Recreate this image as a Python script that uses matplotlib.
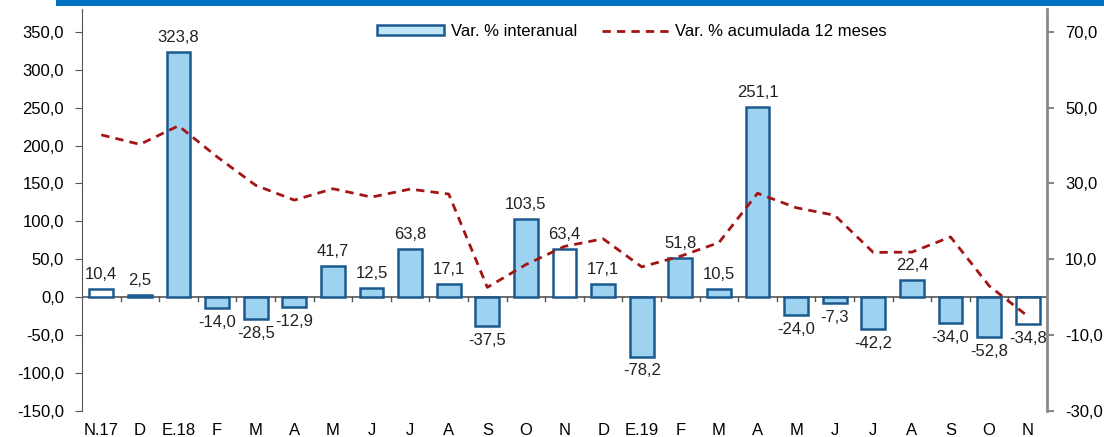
import matplotlib.pyplot as plt
import matplotlib.ticker as mticker
from matplotlib.patches import Rectangle
import numpy as np

plt.rcParams['font.family'] = ['Liberation Sans', 'DejaVu Sans']

# Data
months = ["N.17", "D", "E.18", "F", "M", "A", "M", "J", "J", "A", "S", "O", "N",
          "D", "E.19", "F", "M", "A", "M", "J", "J", "A", "S", "O", "N"]
var_interanual = [10.4, 2.5, 323.8, -14.0, -28.5, -12.9, 41.7, 12.5, 63.8, 17.1, -37.5,
                  103.5, 63.4, 17.1, -78.2, 51.8, 10.5, 251.1, -24.0, -7.3, -42.2,
                  22.4, -34.0, -52.8, -34.8]
var_acumulada = [42.8, 40.3, 45.2, 37.0, 29.5, 25.6, 28.6, 26.4, 28.5, 27.2, 2.6,
                 8.6, 13.4, 15.4, 8.0, 10.8, 14.4, 27.4, 23.6, 21.6, 11.8, 11.9,
                 15.9, 3.0, -5.0]
white_bars = [0, 12, 24]  # November bars drawn without fill

bar_blue = "#9DD3F0"
edge_blue = "#1B5A8E"
line_red = "#A31515"
FS = 12


def fmt_es(v, pos=None):
    return f"{v:.1f}".replace(".", ",")


fig = plt.figure(figsize=(11.04, 4.37), dpi=100)
ax = fig.add_axes([0.0743, 0.0595, 0.8741, 0.92])
ax2 = ax.twinx()

x = np.arange(len(months))
colors = ["white" if i in white_bars else bar_blue for i in x]
bars = ax.bar(x, var_interanual, width=0.62, color=colors, edgecolor=edge_blue,
              linewidth=1.8, zorder=2)

# bar labels
for xi, v in zip(x, var_interanual):
    if v >= 0:
        ax.annotate(fmt_es(v), (xi, v), xytext=(0, 5), textcoords="offset points",
                    ha="center", va="bottom", fontsize=FS, color="#222222")
    else:
        ax.annotate(fmt_es(v), (xi, v), xytext=(0, -5), textcoords="offset points",
                    ha="center", va="top", fontsize=FS, color="#222222")

ax2.plot(x, var_acumulada, color=line_red, linestyle=(0, (3, 2.2)), linewidth=2,
         zorder=3)

ax.set_xlim(-0.5, len(months) - 0.5)
ax.set_ylim(-150, 380)
ax2.set_ylim(-30, 76)
ax.set_yticks(np.arange(-150, 351, 50))
ax2.set_yticks(np.arange(-30, 71, 20))
ax.yaxis.set_major_formatter(mticker.FuncFormatter(fmt_es))
ax2.yaxis.set_major_formatter(mticker.FuncFormatter(fmt_es))

# x axis: zero line with ticks between categories
ax.axhline(0, color="#555555", linewidth=1.2, zorder=1)
for b in np.arange(0.5, len(months) - 0.5, 1):
    ax.plot([b, b], [0, -5], color="#555555", linewidth=1, zorder=1)
ax.set_xticks(x)
ax.set_xticklabels(months, fontsize=FS)
ax.tick_params(axis="x", length=0, pad=9)

for a in (ax, ax2):
    a.spines["top"].set_visible(False)
    a.spines["bottom"].set_visible(False)
ax.spines["right"].set_visible(False)
ax2.spines["left"].set_visible(False)
ax.spines["left"].set_color("#555555")
ax2.spines["right"].set_color("#888888")
ax2.spines["right"].set_linewidth(2)
ax.tick_params(axis="y", labelsize=FS, color="#555555", length=5, pad=8)
ax2.tick_params(axis="y", labelsize=FS, color="#888888", length=5, width=1.5, pad=8)

# legend
h_bar = Rectangle((0, 0), 1, 1, facecolor="#BFE6F7", edgecolor=edge_blue, linewidth=1.8)
h_line = plt.Line2D([], [], color=line_red, linestyle=(0, (3, 2.2)), linewidth=2)
ax.legend([h_bar, h_line], ["Var. % interanual", "Var. % acumulada 12 meses"],
          loc="upper center", bbox_to_anchor=(0.57, 1.0), ncol=2, frameon=False,
          fontsize=FS, handlelength=4, handleheight=0.5, handletextpad=0.4,
          columnspacing=1.5)

# blue band at top
fig.patches.append(Rectangle((0.051, 0.986), 0.949, 0.014, transform=fig.transFigure,
                             facecolor="#0070C0", edgecolor="none"))

fig.savefig("out.png", dpi=100)
